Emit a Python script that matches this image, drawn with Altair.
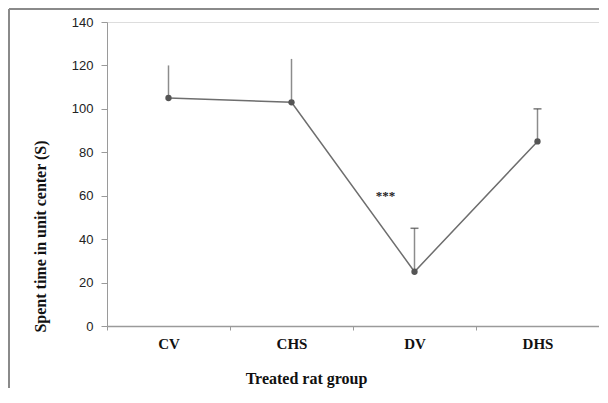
import altair as alt
import pandas as pd

groups = ["CV", "CHS", "DV", "DHS"]
means = [105, 103, 25, 85]
uppers = [120, 123, 45, 100]
capped = [False, False, True, True]
sig_group = ["DV"]
sig_y = [60]
sig_label = ["***"]

df = pd.DataFrame({"group": groups, "mean": means, "upper": uppers, "cap": capped})
sig = pd.DataFrame({"group": sig_group, "y": sig_y, "label": sig_label})

W, H = 492, 304
FONT = "Liberation Serif"

x = alt.X("group:N", sort=groups, scale=alt.Scale(domain=groups, paddingInner=0, paddingOuter=0),
          axis=alt.Axis(title="Treated rat group", labelAngle=0, tickBand="extent",
                        labelFont=FONT, labelFontSize=15, labelFontWeight="bold", labelColor="#111",
                        labelPadding=6, titleFont=FONT, titleFontSize=16, titleFontWeight="bold",
                        titleColor="#111", titleX=199, titleY=52, titleBaseline="middle",
                        domainColor="#9a9a9a", tickColor="#9a9a9a", tickSize=4, domainWidth=1.5))
y = alt.Y("mean:Q", scale=alt.Scale(domain=[0, 140], nice=False),
          axis=alt.Axis(title="Spent time in  unit center (S)", values=list(range(0, 141, 20)),
                        grid=False, labelFont="Liberation Sans", labelFontSize=13, labelColor="#222",
                        labelPadding=8, tickSize=6, domainColor="#9a9a9a", tickColor="#9a9a9a",
                        titleFont=FONT, titleFontSize=16, titleFontWeight="bold", titleColor="#111",
                        titleX=-67, titleY=214, titleBaseline="middle", titleAngle=270))

base = alt.Chart(df)

border_left = base.mark_rule(color="#8a8a8a", strokeWidth=2, clip=False).encode(
    x=alt.value(-98), y=alt.value(-13), y2=alt.value(H + 120))
border_top = base.mark_rule(color="#8a8a8a", strokeWidth=2, clip=False).encode(
    x=alt.value(-98), x2=alt.value(W + 60), y=alt.value(-13))

rules = base.mark_rule(color="#8c8c8c", strokeWidth=1.5).encode(x=x, y=y, y2="upper:Q")
caps = base.transform_filter("datum.cap").mark_tick(color="#444", thickness=1.5, size=8).encode(
    x=x, y=alt.Y("upper:Q"))
line = base.mark_line(color="#6e6e6e", strokeWidth=1.5).encode(x=x, y=y)
points = base.mark_point(filled=True, color="#555555", size=40, opacity=1).encode(x=x, y=y)
text = alt.Chart(sig).mark_text(font=FONT, fontSize=13, fontWeight="bold", color="#222", dx=-29).encode(
    x=alt.X("group:N", sort=groups), y=alt.Y("y:Q"), text="label:N")

chart = alt.layer(border_left, border_top, rules, caps, line, points, text).properties(
    width=W, height=H, autosize="none",
    padding={"left": 99, "top": 14, "right": 0, "bottom": 62},
).configure_view(strokeOpacity=0, strokeWidth=0).configure(background="white")

chart.save("out.html", embed_options={"renderer": "svg", "actions": False})
